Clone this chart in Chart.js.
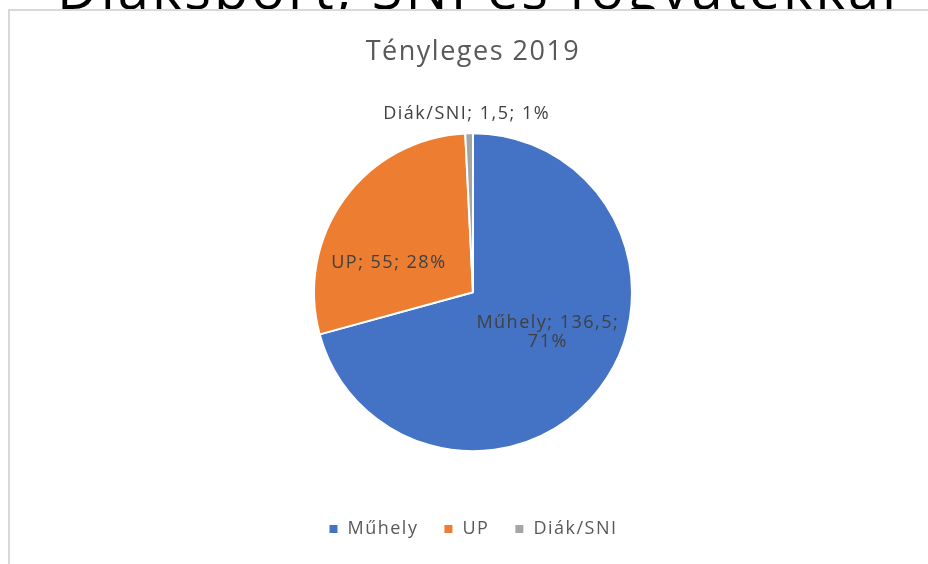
<!DOCTYPE html>
<html lang="hu">
<head>
  <meta charset="UTF-8" />
  <title>Tényleges 2019</title>
  <script src="https://cdn.jsdelivr.net/npm/chart.js"></script>
  <style>
    html, body { margin: 0; padding: 0; background: #fff; overflow: hidden; }
    body { width: 928px; height: 564px; position: relative; font-family: "Open Sans", sans-serif; }
    #slideTitle {
      position: absolute; left: 57px; top: -41px; white-space: nowrap;
      font-size: 56px; line-height: 1; color: #000; letter-spacing: 3px;
    }
    #box {
      position: absolute; left: 8px; top: 9px; width: 930px; height: 560px;
      border-left: 2px solid #d9d9d9; border-top: 2px solid #d9d9d9; background: #fff;
    }
    #wrap { position: absolute; left: 0; top: 1px; width: 918px; height: 552px; }
  </style>
</head>
<body>
  <div id="slideTitle">Diáksport, SNI és fogyatékkal</div>
  <div id="box">
    <div id="wrap"><canvas id="pie"></canvas></div>
  </div>

  <script>
    const labels = ['Műhely', 'UP', 'Diák/SNI'];
    const values = [136.5, 55, 1.5];
    const colors = ['#4472C4', '#ED7D31', '#A5A5A5'];

    // a képen a feliratok szélesebbek, ezért betűközt adunk
    const spacing = {
      id: 'spacing',
      beforeLayout(chart) { chart.ctx.letterSpacing = '1.5px'; },
      beforeDraw(chart) { chart.ctx.letterSpacing = '1.5px'; }
    };

    // adatcímkék: "név; érték; %" az Excel stílusában
    const sliceLabels = {
      id: 'sliceLabels',
      afterDatasetsDraw(chart, args, opts) {
        const ctx = chart.ctx;
        const meta = chart.getDatasetMeta(0);
        const total = values.reduce((a, b) => a + b, 0);
        ctx.save();
        ctx.font = '18px "Open Sans", sans-serif';
        ctx.letterSpacing = '1.5px';
        ctx.fillStyle = '#404040';
        ctx.textAlign = 'center';
        ctx.textBaseline = 'middle';
        meta.data.forEach((arc, i) => {
          const p = arc.getProps(['x', 'y', 'startAngle', 'endAngle', 'outerRadius'], true);
          const mid = (p.startAngle + p.endAngle) / 2;
          const dist = opts.outside[i] ? p.outerRadius + 19 : p.outerRadius * 0.56;
          const nudge = opts.nudge[i];
          const cx = p.x + Math.cos(mid) * dist + nudge[0];
          const cy = p.y + Math.sin(mid) * dist + nudge[1];
          const val = String(values[i]).replace('.', ',');
          const pct = Math.round(values[i] / total * 100) + '%';
          const lines = opts.wrap[i]
            ? [labels[i] + '; ' + val + ';', pct]
            : [labels[i] + '; ' + val + '; ' + pct];
          const lh = 19;
          lines.forEach((t, k) => {
            ctx.fillText(t, cx, cy + (k - (lines.length - 1) / 2) * lh);
          });
        });
        ctx.restore();
      }
    };

    new Chart(document.getElementById('pie'), {
      type: 'pie',
      data: {
        labels: labels,
        datasets: [{
          data: values,
          backgroundColor: colors,
          borderColor: '#ffffff',
          borderWidth: 2,
          radius: 159
        }]
      },
      options: {
        responsive: true,
        maintainAspectRatio: false,
        animation: false,
        layout: { padding: { left: 8, right: 0, top: 0, bottom: 16 } },
        plugins: {
          title: {
            display: true,
            text: 'Tényleges 2019',
            color: '#595959',
            font: { family: '"Open Sans", sans-serif', size: 27, weight: 'normal' },
            padding: { top: 24, bottom: 21 }
          },
          legend: {
            position: 'bottom',
            labels: {
              boxWidth: 10,
              boxHeight: 10,
              padding: 25,
              color: '#595959',
              font: { family: '"Open Sans", sans-serif', size: 18 }
            }
          },
          tooltip: { enabled: false },
          sliceLabels: {
            outside: [false, false, true],
            wrap: [true, false, false],
            nudge: [[4, -14], [-12, 23], [-2, 0]]
          }
        }
      },
      plugins: [spacing, sliceLabels]
    });
  </script>
</body>
</html>
